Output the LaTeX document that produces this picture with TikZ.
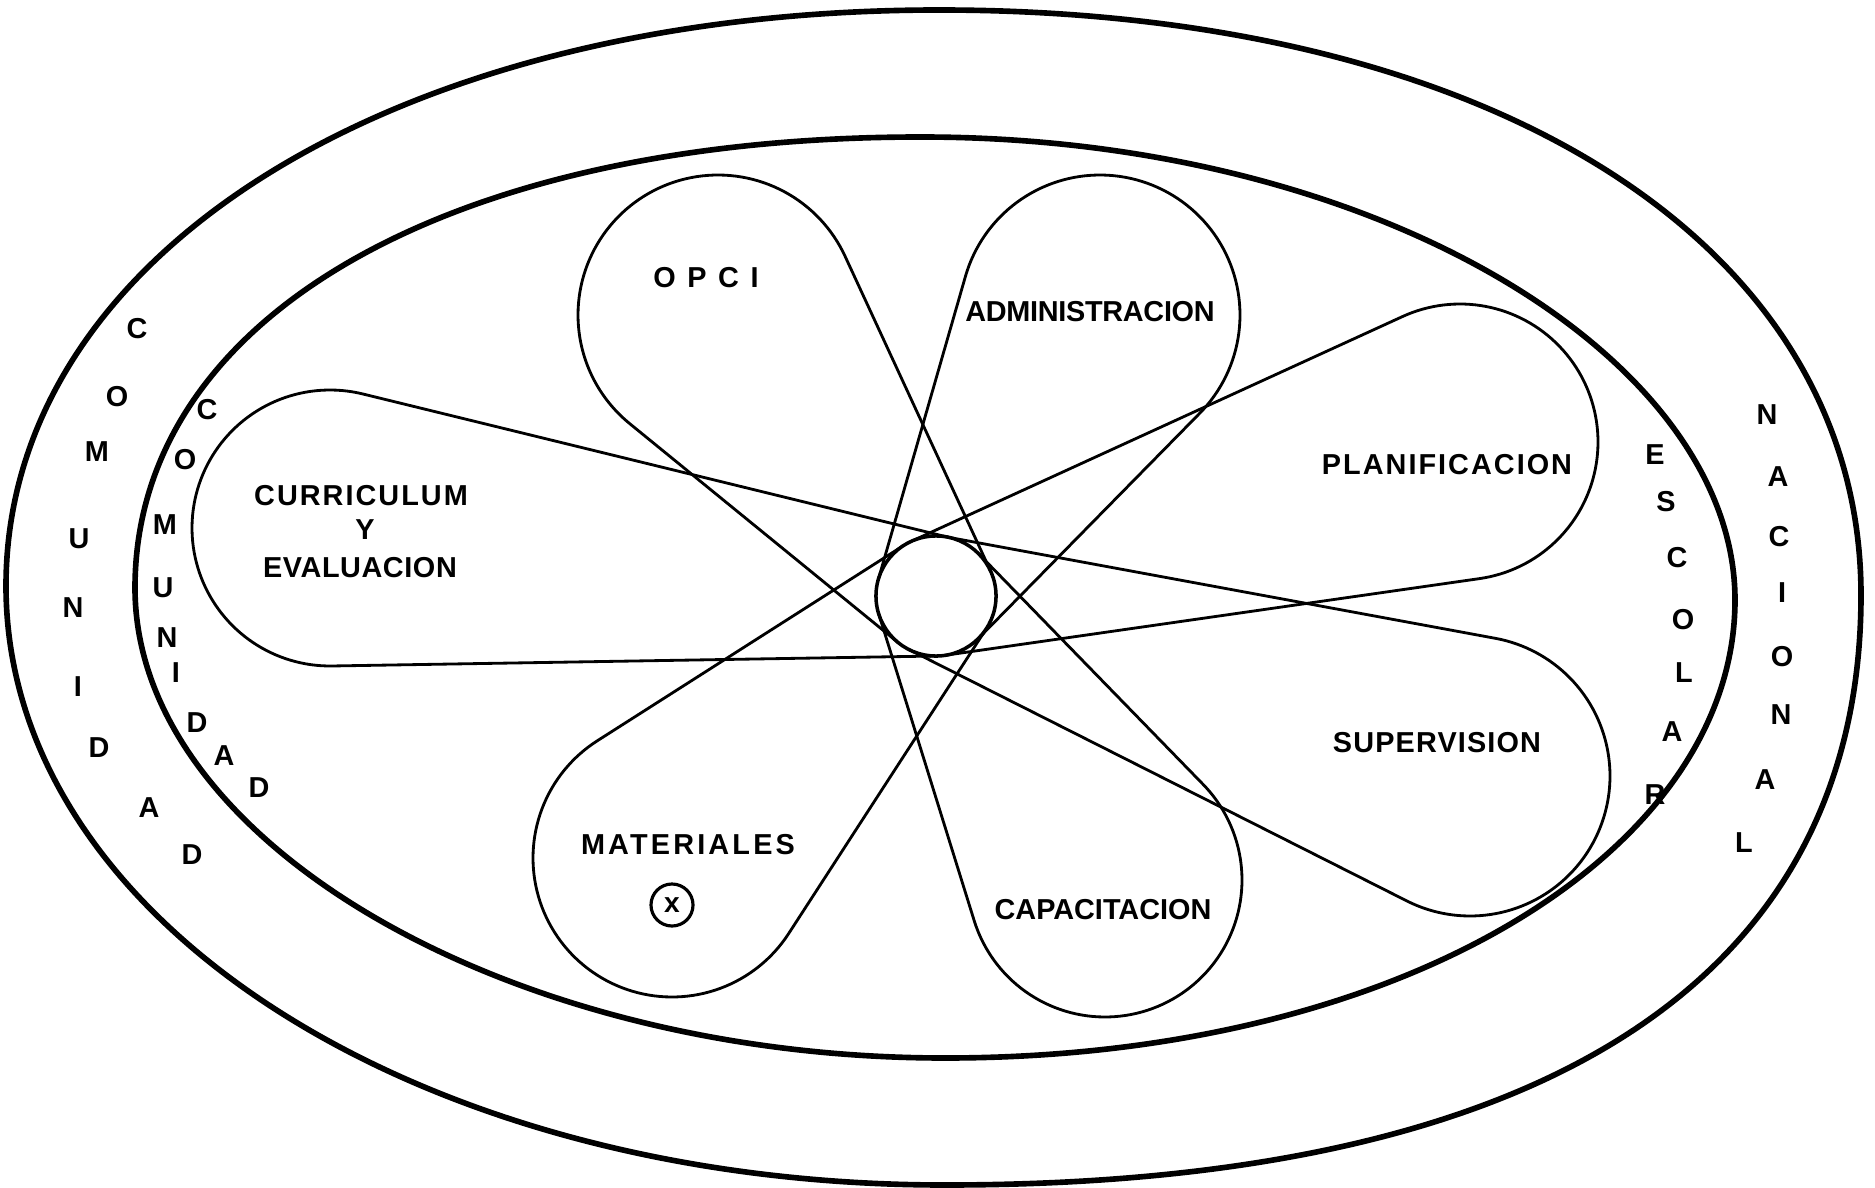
\documentclass[tikz,border=0pt]{standalone}
\usepackage{fontspec}
\setmainfont{Liberation Sans}
\begin{document}
\begin{tikzpicture}[x=0.01cm,y=-0.01cm,
  lab/.style={font=\bfseries\fontsize{8.2pt}{9.5pt}\selectfont, inner sep=0pt},
  petal/.style={line width=0.8pt, line join=round},
  ring/.style={line width=1.6pt},
  hub/.style={line width=1pt}]
\useasboundingbox (0,0) rectangle (1875,1188);
% outer ring (NACIONAL / COMUNIDAD)
\draw[ring] (6,586) .. controls (6,252) and (398,10) .. (939,10)
  .. controls (1492,10) and (1861,244) .. (1861,595)
  .. controls (1861,975) and (1550,1185) .. (945,1185)
  .. controls (419,1185) and (6,921) .. cycle;
% inner ring (ESCOLAR / COMUNIDAD)
\draw[ring] (135,588) .. controls (135,317) and (449,137) .. (921,137)
  .. controls (1380,137) and (1735,360) .. (1735,600)
  .. controls (1735,850) and (1405,1058) .. (945,1058)
  .. controls (508,1058) and (135,842) .. cycle;
% petals: outer circle (px,py,R) joined to the hub circle (936,596,60) by common tangents
\foreach \px/\py/\R in {718/315/140, 1100/315/140, 1460/442/138, 1470/776/140,
                        1105/880/137, 672/858/139, 330/528/138}{
  \pgfmathsetmacro\th{atan2(596-\py,936-\px)}
  \pgfmathsetmacro\al{asin((\R-60)/veclen(936-\px,596-\py))}
  \pgfmathsetmacro\aA{\th+90-\al}
  \pgfmathsetmacro\aB{\th+270+\al}
  \draw[petal] ({936+60*cos(\aA)},{596+60*sin(\aA)})
     -- plot[domain=\aA:\aB, samples=90, variable=\t] ({\px+\R*cos(\t)},{\py+\R*sin(\t)})
     -- ({936+60*cos(\aB)},{596+60*sin(\aB)});
}
% hub
\draw[hub] (936,596) circle[radius=0.6cm];
% petal labels
\node[lab] (opci) at (706,278) {\addfontfeature{LetterSpace=40}OPCI};
\node[lab] (adm) at (1090,312) {\addfontfeature{LetterSpace=-1}ADMINISTRACION};
\node[lab] (plan) at (1447,465) {\addfontfeature{LetterSpace=7}PLANIFICACION};
\node[lab] (sup) at (1437,743) {\addfontfeature{LetterSpace=4}SUPERVISION};
\node[lab] (cap) at (1103,910) {CAPACITACION};
\node[lab] (mat) at (688,845) {\addfontfeature{LetterSpace=11}MATERIALES};
\node[lab] (cur) at (361,496) {\addfontfeature{LetterSpace=7}CURRICULUM};
\node[lab] (cury) at (365,530) {Y};
\node[lab] (eva) at (360,568) {\addfontfeature{LetterSpace=2}EVALUACION};
\node[draw, circle, line width=0.9pt, minimum size=0.42cm, inner sep=0pt,
      font=\bfseries\fontsize{8pt}{9pt}\selectfont] (xmark) at (672,905) {x};
% ring letters
\foreach \l/\lx/\ly [count=\i] in {C/137/329, O/117/397, M/97/452, U/79/539, N/73/608,
    I/78/687, D/99/748, A/149/808, D/192/855}
  \node[lab] (co\i) at (\lx,\ly) {\l};
\foreach \l/\lx/\ly [count=\i] in {C/207/410, O/185/460, M/165/525, U/163/588, N/167/638,
    I/176/673, D/197/723, A/224/756, D/259/788}
  \node[lab] (ci\i) at (\lx,\ly) {\l};
\foreach \l/\lx/\ly [count=\i] in {E/1655/455, S/1666/502, C/1677/558, O/1683/620,
    L/1684/673, A/1672/732, R/1655/795}
  \node[lab] (es\i) at (\lx,\ly) {\l};
\foreach \l/\lx/\ly [count=\i] in {N/1767/415, A/1778/477, C/1779/537, I/1782/593,
    O/1782/657, N/1781/715, A/1765/780, L/1744/843}
  \node[lab] (na\i) at (\lx,\ly) {\l};
\end{tikzpicture}
\end{document}
